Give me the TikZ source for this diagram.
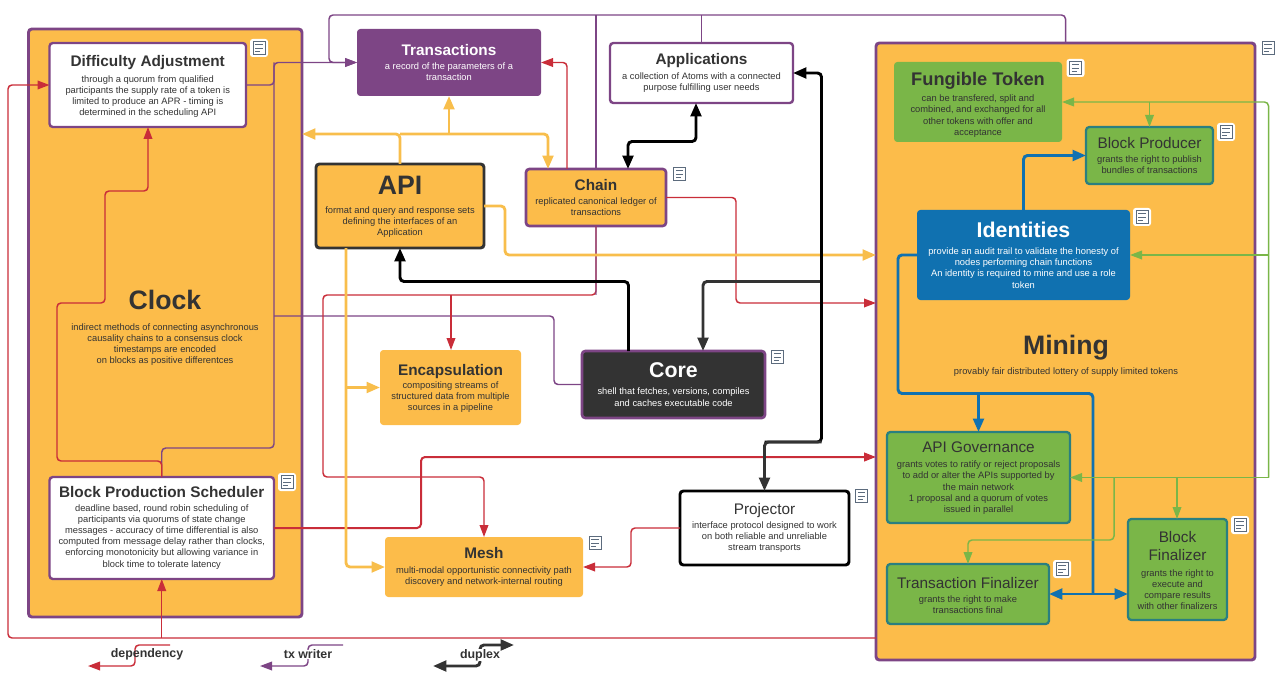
\documentclass[tikz,border=0pt]{standalone}
\usepackage{fontspec}
\setmainfont{Liberation Sans}
\usetikzlibrary{arrows.meta,calc}
\definecolor{cOrange}{HTML}{FCBC4A}
\definecolor{cYellow}{HTML}{F8BE4C}
\definecolor{cPurple}{HTML}{7D4585}
\definecolor{cRed}{HTML}{C92D39}
\definecolor{cDark}{HTML}{333333}
\definecolor{cBlue}{HTML}{1071B0}
\definecolor{cGreen}{HTML}{7AB648}
\definecolor{cTeal}{HTML}{2A7F80}
\definecolor{cIcon}{HTML}{5C6B7D}
\newcommand\ttl[3]{{\bfseries\fontsize{#1}{#1}\selectfont #3\par}\vspace{#2}}
\newcommand\rttl[3]{{\fontsize{#1}{#1}\selectfont #3\par}\vspace{#2}}
\newcommand\bdy[1]{{\fontsize{7}{8.4}\selectfont #1\par}}
\newcommand\dn[1]{\vspace{-#1}}
\newcommand\bx[7]{%
  \pgfmathsetmacro\bxcx{(#3+#5)/2}\pgfmathsetmacro\bxcy{(#4+#6)/2}%
  \pgfmathsetmacro\bxw{(#5-#3)*.75}\pgfmathsetmacro\bxh{(#6-#4)*.75}%
  \pgfmathsetmacro\bxt{\bxw-1}%
  \node[#2,minimum width=\bxw pt,minimum height=\bxh pt,text width=\bxt pt] (#1) at (\bxcx,\bxcy) {#7};}
\newcommand\note[3]{%
  \node[notebg] (#1) at (#2,#3) {};
  \draw[cIcon,line width=.7pt] ([xshift=-4.5pt,yshift=-5.2pt]#1.center) rectangle ([xshift=4.5pt,yshift=5.2pt]#1.center);
  \draw[cIcon,line width=.7pt] ([xshift=-2.8pt,yshift=2.4pt]#1.center) -- ([xshift=2.8pt,yshift=2.4pt]#1.center);
  \draw[cIcon,line width=.7pt] ([xshift=-2.8pt,yshift=0pt]#1.center) -- ([xshift=2.8pt,yshift=0pt]#1.center);
  \draw[cIcon,line width=.7pt] ([xshift=-2.8pt,yshift=-2.4pt]#1.center) -- ([xshift=1pt,yshift=-2.4pt]#1.center);}
\tikzset{
  base/.style={rounded corners=2.5pt,inner sep=0pt,outer sep=0pt,align=flush center,text=cDark},
  container/.style={base,fill=cOrange,draw=cPurple,line width=2.2pt},
  whitebox/.style={base,fill=white,draw=cPurple,line width=1.8pt},
  orangebox/.style={base,fill=cOrange},
  chainbox/.style={base,fill=cOrange,draw=cPurple,line width=2pt},
  apibox/.style={base,fill=cOrange,draw=cDark,line width=2.2pt},
  txbox/.style={base,fill=cPurple,text=white},
  corebox/.style={base,fill=cDark,draw=cPurple,line width=2pt,text=white},
  projbox/.style={base,fill=white,draw=black,line width=2.2pt},
  greenbox/.style={base,fill=cGreen,draw=cTeal,line width=1.7pt},
  fungbox/.style={base,fill=cGreen},
  idbox/.style={base,fill=cBlue,text=white},
  notebg/.style={fill=white,rounded corners=2pt,minimum width=13.5pt,minimum height=13.5pt,inner sep=0pt},
  free/.style={inner sep=0pt,align=flush center,text=cDark,text width=200pt},
  legend/.style={inner sep=0pt,text=cDark,font=\bfseries\fontsize{9.3}{11}\selectfont},
  conn/.style={rounded corners=3pt},
  tipS/.style={-{Triangle[length=9pt,width=6.5pt]}},
  tipL/.style={-{Triangle[length=10pt,width=8pt]}},
  tipBoth/.style={{Triangle[length=10pt,width=8pt]}-{Triangle[length=10pt,width=8pt]}},
  redl/.style={conn,draw=cRed,line width=1.1pt},
  purl/.style={conn,draw=cPurple,line width=1.1pt},
  yell/.style={conn,draw=cYellow,line width=2.1pt},
  blackl/.style={conn,draw=black,line width=2.2pt},
  darkl/.style={conn,draw=cDark,line width=2.2pt},
  bluel/.style={conn,draw=cBlue,line width=2.2pt},
  greenl/.style={conn,draw=cGreen,line width=1.1pt},
}
\begin{document}
\begin{tikzpicture}[x=0.75pt,y=-0.75pt]
\useasboundingbox (0,0) rectangle (1280,677);
% containers
\bx{clock}{container}{28.5}{29}{302}{617}{}
\bx{mining}{container}{876}{43}{1255}{660}{}
\node[free] (clocklabel) at (165,328) {\ttl{20}{7pt}{Clock}\bdy{indirect methods of connecting asynchronous\\causality chains to a consensus clock\\timestamps are encoded\\on blocks as positive differentces}};
\node[free] (mininglabel) at (1066,356) {\ttl{20}{4.5pt}{Mining}\bdy{provably fair distributed lottery of supply limited tokens}};
% inner nodes
\bx{diff}{whitebox}{49.5}{43}{246}{127}{\ttl{11.5}{3.5pt}{Difficulty Adjustment}\bdy{through a quorum from qualified\\participants the supply rate of a token is\\limited to produce an APR - timing is\\determined in the scheduling API}\dn{2pt}}
\bx{bps}{whitebox}{49.5}{477}{274}{579}{\ttl{11.5}{1.5pt}{Block Production Scheduler}\bdy{deadline based, round robin scheduling of\\participants via quorums of state change\\messages - accuracy of time differential is also\\computed from message delay rather than clocks,\\enforcing monotonicity but allowing variance in\\block time to tolerate latency}}
\bx{tx}{txbox}{357}{29}{541}{96}{\ttl{11.5}{2pt}{Transactions}\bdy{a record of the parameters of a\\transaction}}
\bx{apps}{whitebox}{610}{43}{793}{103}{\ttl{11.5}{3pt}{Applications}\bdy{a collection of Atoms with a connected\\purpose fulfilling user needs}}
\bx{api}{apibox}{316}{164}{484}{248}{\ttl{20}{5.5pt}{API}\bdy{format and query and response sets\\defining the interfaces of an\\Application}\dn{1.5pt}}
\bx{chain}{chainbox}{526}{169}{666}{226}{\ttl{11.5}{2pt}{Chain}\bdy{replicated canonical ledger of\\transactions}}
\bx{encap}{orangebox}{380}{350}{521}{425}{\ttl{11.5}{1.5pt}{Encapsulation}\bdy{compositing streams of\\structured data from multiple\\sources in a pipeline}\dn{1.5pt}}
\bx{core}{corebox}{582}{351}{765}{418}{\ttl{16}{4.5pt}{Core}\bdy{shell that fetches, versions, compiles\\and caches executable code}}
\bx{mesh}{orangebox}{385}{537}{583}{597}{\ttl{11.5}{3pt}{Mesh}\bdy{multi-modal opportunistic connectivity path\\discovery and network-internal routing}}
\bx{proj}{projbox}{680}{491}{849}{565}{\rttl{11.5}{2pt}{Projector}\bdy{interface protocol designed to work\\on both reliable and unreliable\\stream transports}}
\bx{fung}{fungbox}{894}{62}{1062}{142}{\ttl{13.7}{3.5pt}{Fungible Token}\bdy{can be transfered, split and\\combined, and exchanged for all\\other tokens with offer and\\acceptance}\dn{4.5pt}}
\bx{prod}{greenbox}{1086}{127}{1213}{184}{\rttl{11.5}{2pt}{Block Producer}\bdy{grants the right to publish\\bundles of transactions}}
\bx{ident}{idbox}{917}{210}{1130}{300}{\ttl{16}{4.5pt}{Identities}\bdy{provide an audit trail to validate the honesty of\\nodes performing chain functions\\An identity is required to mine and use a role\\token}}
\bx{gov}{greenbox}{887}{432}{1070}{523}{\rttl{11.5}{3pt}{API Governance}\bdy{grants votes to ratify or reject proposals\\to add or alter the APIs supported by\\the main network\\1 proposal and a quorum of votes\\issued in parallel}\dn{1pt}}
\bx{txfin}{greenbox}{887}{564}{1049}{624}{\rttl{11.5}{2pt}{Transaction Finalizer}\bdy{grants the right to make\\transactions final}\dn{2pt}}
\bx{blockfin}{greenbox}{1128}{519}{1227}{620}{{\fontsize{11.5}{13.5}\selectfont Block\\Finalizer\par}\vspace{3pt}\bdy{grants the right to\\execute and\\compare results\\with other finalizers}\dn{2pt}}
% purple connectors
\draw[purl,tipS] (bps.north) -- (161.75,448) -- (274,448) -- (274,62.5) -- (tx.west);
\draw[purl] (diff.east) -- (274,85) -- (274,62.5);
\draw[purl] (core.west) -- (554,384.5) -- (554,316) -- (274,316);
\draw[purl,tipS] (mining.north) -- (1065.5,15) -- (329,15) -- (329,62.5) -- (tx.west);
\draw[purl] (apps.north) -- (701.5,15);
\draw[purl] (chain.north) -- (596,15);
% red connectors
\draw[redl,tipS] (chain.north -| 567,0) -- (567,62.5) -- (tx.east);
\draw[redl,tipS] (chain.east) -- (736,197.5) -- (736,303) -- (mining.west |- 0,303);
\draw[redl,line width=1.5pt,tipS] (bps.east) -- (421,528) -- (421,457) -- (mining.west |- 0,457);
\draw[redl,tipS] (proj.west) -- (631,528) -- (631,567) -- (mesh.east);
\draw[redl,tipS] (bps.north) -- (161.75,461) -- (57,461) -- (57,303) -- (105,303) -- (105,191) -- (148,191) -- (diff.south -| 148,0);
\draw[redl,tipS] (mining.west |- 0,638) -- (8,638) -- (8,85) -- (diff.west);
\draw[redl,tipS] (161.75,638) -- (bps.south);
\draw[redl,tipS] (chain.south) -- (596,295) -- (323,295) -- (323,477) -- (484,477) -- (mesh.north);
\draw[redl,tipS] (451,295) -- (encap.north -| 451,0);
\draw[purl,opacity=.55] (chain.south) -- (596,295);
% yellow connectors
\draw[yell,tipL] (api.north) -- (400,134) -- (clock.east |- 0,134);
\draw[yell,tipL] (400,134) -- (548,134) -- (chain.north -| 548,0);
\draw[yell,tipL] (449,134) -- (tx.south -| 449,0);
\draw[yell,tipL] (api.east) -- (505,206) -- (505,255) -- (mining.west |- 0,255);
\draw[yell,tipL] (api.south -| 346,0) -- (346,567) -- (mesh.west);
\draw[yell,tipL] (346,387.5) -- (encap.west);
% black connectors
\draw[blackl,tipBoth] (chain.north -| 628,0) -- (628,141.5) -- (696,141.5) -- (apps.south -| 696,0);
\draw[blackl,tipL] (core.north -| 628.5,0) -- (628.5,281.5) -- (400,281.5) -- (api.south);
\draw[darkl,tipL] (821.5,281.5) -- (703,281.5) -- (core.north -| 703,0);
\draw[blackl,tipL] (764.5,442) -- (821.5,442) -- (821.5,73) -- (apps.east);
\draw[darkl,tipL] (821.5,442) -- (764.5,442) -- (proj.north -| 764.5,0);
% blue connectors
\draw[bluel,tipL] (ident.north) -- (1023.5,155.5) -- (prod.west);
\draw[bluel] (ident.west) -- (898,255) -- (898,393.5) -- (1093,393.5) -- (1093,594);
\draw[bluel,tipL] (978.5,393.5) -- (gov.north);
\draw[bluel,tipBoth] (txfin.east) -- (blockfin.west |- 0,594);
% green connectors
\draw[greenl,tipS] (1268.5,477.5) -- (gov.east);
\draw[greenl,tipS] (1268.5,255) -- (ident.east);
\draw[greenl,tipS] (1268.5,477.5) -- (1268.5,102) -- (fung.east);
\draw[greenl,tipS] (1149.5,102) -- (prod.north);
\draw[greenl,tipS] (1177,477.5) -- (blockfin.north -| 1177,0);
\draw[greenl,tipS] (1114,477.5) -- (1114,540) -- (968,540) -- (txfin.north);
% legend
\coordinate (d1) at (170,645); \coordinate (d2) at (88,666);
\coordinate (t1) at (343,645); \coordinate (t2) at (260,666);
\coordinate (u2) at (514,645); \coordinate (v2) at (433,666);
\draw[redl,tipS] (d1) -- (135,645) -- (135,666) -- (d2);
\draw[purl,tipS] (t1) -- (308,645) -- (308,666) -- (t2);
\draw[darkl,tipBoth] (v2) -- (480,666) -- (480,645) -- (u2);
\node[legend] (legdep) at (147,654) {dependency};
\node[legend,fill=white] (legtx) at (308,654.5) {tx writer};
\node[legend,fill=white] (legdup) at (480,655) {duplex};
% note icons
\note{n1}{259}{48}
\note{n2}{287}{482}
\note{n3}{595}{543}
\note{n4}{679.5}{174}
\note{n5}{777.5}{357}
\note{n6}{861.5}{496}
\note{n7}{1268}{48}
\note{n8}{1075.5}{68}
\note{n9}{1226}{132}
\note{n10}{1142}{217}
\note{n11}{1240}{525}
\note{n12}{1062}{569}
\end{tikzpicture}
\end{document}
